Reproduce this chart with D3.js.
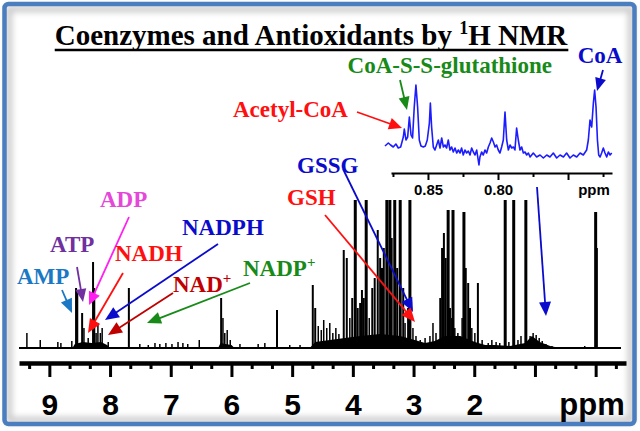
<!DOCTYPE html>
<html><head><meta charset="utf-8">
<script src="https://cdn.jsdelivr.net/npm/d3@7"></script>
<style>html,body{margin:0;padding:0;background:#fff;} svg{display:block}</style>
</head><body>
<svg id="chart" width="640" height="431"></svg>
<script>
// ---------- DATA ----------
const mainTickLabels = ["9","8","7","6","5","4","3","2"];
const mainMajorTicks = [9,8,7,6,5,4,3,2,1,0];
const mainMinorTicks = [9.333,8.667,8.333,7.667,7.333,6.667,6.333,5.667,5.333,4.667,4.333,3.667,3.333,2.667,2.333,1.667,1.333,0.667,0.333,-0.333];
const peakPpm = [9.37,9.15,8.86,8.81,8.63,8.56,8.54,8.46,8.43,8.36,8.28,8.26,8.23,8.20,8.16,8.13,8.03,
  7.69,7.51,7.37,7.26,7.18,7.08,6.98,6.88,6.80,6.72,6.53,
  6.17,6.14,6.11,6.07,6.02,5.86,5.56,5.45,5.25,5.04,4.87,
  4.66,4.62,4.57,4.52,4.48,4.43,4.38,4.33,4.28,4.23,
  4.15,4.10,4.05,4.01,3.96,3.92,3.88,3.85,3.82,3.78,
  3.73,3.68,3.64,3.59,3.55,3.52,3.49,3.44,3.39,3.36,
  3.31,3.27,3.22,3.17,3.14,3.09,3.06,3.01,2.96,2.89,
  2.81,2.73,2.68,2.63,2.56,2.53,2.50,2.47,2.43,2.40,
  2.37,2.35,2.32,2.27,2.20,2.17,2.14,2.10,2.07,2.04,
  1.99,1.94,1.87,1.77,1.71,1.64,1.58,1.49,1.43,1.35,
  1.28,1.23,1.15,1.08,1.03,0.98,0.93,0.88,0.82,0.72,
  0.18,0.00,-0.02];
const peakHeight = [15,8,6,5,7,60,55,35,20,10,86,60,15,25,15,20,6,
  60,4,3,5,4,5,4,6,5,4,8,
  50,30,15,18,8,4,4,5,38,3,3,
  63,40,22,18,28,20,25,15,20,14,
  98,90,30,50,148,40,45,58,50,148,
  30,60,70,118,90,80,100,148,148,110,
  148,80,148,60,25,40,148,20,12,8,
  10,12,25,15,50,100,115,90,138,40,
  30,138,20,15,30,136,80,65,40,20,
  15,65,8,5,8,6,5,148,6,148,
  8,12,148,12,15,13,10,7,4,2,
  2,136,100];
const humpPpm = [8.62,8.58,8.45,8.30,8.15,8.05,8.00, 6.22,6.18,6.10,6.00,5.95,
  4.71,4.62,4.38,4.13,3.88,3.55,3.22,2.98,2.81,2.65,2.48,2.23,1.99,1.82,1.66,1.41,1.16,1.05,0.92,0.75,0.59];
const humpHeight = [0,4,6,5,6,3,0, 0,5,4,3,0,
  0,6,8,10,12,14,12,8,5,7,12,12,6,3,3,2,5,12,6,2,0];
const insetPpm = [0.8807,0.8783,0.8767,0.8748,0.8729,0.8712,0.8695,0.8676,0.8669,0.8657,0.8645,0.8633,0.8621,0.8610,0.8598,0.8586,0.8574,0.8562,0.8550,0.8533,
  0.8519,0.8505,0.8490,0.8483,0.8474,0.8462,0.8450,0.8438,0.8426,0.8414,0.8402,0.8390,0.8379,0.8367,0.8355,0.8343,0.8331,0.8319,0.8307,0.8295,
  0.8283,0.8271,0.8260,0.8248,0.8236,0.8224,0.8212,0.8200,0.8188,0.8176,0.8164,0.8152,0.8136,0.8129,0.8117,0.8105,0.8093,0.8081,0.8069,0.8057,
  0.8045,0.8033,0.8021,0.8010,0.7998,0.7986,0.7974,0.7962,0.7950,0.7938,0.7926,0.7914,0.7902,0.7890,0.7879,0.7867,0.7855,0.7843,0.7831,0.7819,
  0.7807,0.7795,0.7783,0.7771,0.7748,0.7724,0.7700,0.7676,0.7652,0.7629,0.7605,0.7581,0.7557,0.7533,0.7510,0.7486,0.7462,0.7438,0.7414,0.7391,
  0.7367,0.7355,0.7343,0.7331,0.7319,0.7310,0.7300,0.7290,0.7281,0.7271,0.7260,0.7248,0.7236,0.7224,0.7212,0.7200,0.7188];
const insetIntensity = [14,17,15,13,16,12,13,23,31,20,23,43,25,22,53,75,53,20,14,13,
  14,20,37,57,33,13,10,15,20,12,22,13,15,12,20,10,13,8,12,7,
  10,7,12,5,10,7,9,5,12,8,5,10,-5,3,8,5,10,7,13,17,
  22,18,13,15,10,7,13,20,48,20,10,15,12,13,10,32,20,10,13,7,
  8,5,7,3,7,3,5,2,5,3,7,2,5,3,7,2,5,3,7,5,
  10,20,40,33,57,70,53,20,5,3,7,12,7,3,8,5,7];
const insetMajorTicks = [0.85,0.80,0.75];
const insetTickLabels = ["0.85","0.80"];
const insetMinorTicks = [0.875,0.825,0.775,0.725];
const titleParts = ["Coenzymes and Antioxidants by ","1","H NMR"];
const compoundNames = ["AMP","ATP","ADP","NADH","NADPH","NAD","NADP","GSSG","GSH","Acetyl-CoA","CoA-S-S-glutathione","CoA"];

// ---------- LAYOUT / STYLE ----------
const W = 640, H = 431;
const svg = d3.select("#chart");
const defs = svg.append("defs");
defs.append("filter").attr("id","soft").attr("x","-5%").attr("y","-5%").attr("width","110%").attr("height","110%")
  .append("feGaussianBlur").attr("stdDeviation",3);
defs.append("clipPath").attr("id","specClip").append("rect")
  .attr("x",0).attr("y",199).attr("width",W).attr("height",160);

svg.append("rect").attr("width",W).attr("height",H).attr("fill","#fff");
// frame with inner shadow
svg.append("rect").attr("x",9).attr("y",9).attr("width",622).attr("height",411)
  .attr("fill","none").attr("stroke","#c8c8c8").attr("stroke-width",6).attr("filter","url(#soft)");
svg.append("rect").attr("x",4.5).attr("y",4).attr("width",630).attr("height",420).attr("rx",4)
  .attr("fill","none").attr("stroke","#4a7ebf").attr("stroke-width",4.5);

const serif = "'Liberation Serif','Times New Roman',serif";
const sans = "'Liberation Sans',Arial,sans-serif";

// ---------- MAIN SPECTRUM ----------
const x = d3.scaleLinear().domain([9.5,-0.5]).range([19,626]);
const y = d3.scaleLinear().domain([0,148]).range([348,200]);

const spec = svg.append("g").attr("clip-path","url(#specClip)");
spec.append("line").attr("x1",19).attr("x2",621).attr("y1",y(0)).attr("y2",y(0))
  .attr("stroke","#000").attr("stroke-width",2);
const humpData = humpPpm.map((p,i)=>({p, h:humpHeight[i]}));
// split hump into segments at zero crossings for separate areas
let segs = [], cur = [];
humpData.forEach(d=>{ cur.push(d); if(d.h===0 && cur.length>1){ segs.push(cur); cur=[]; } else if(d.h===0){ cur=[d]; } });
const area = d3.area().x(d=>x(d.p)).y0(y(0)).y1(d=>y(d.h));
segs.forEach(s=> spec.append("path").attr("d",area(s)).attr("fill","#000"));
const peaks = peakPpm.map((p,i)=>({p, h:peakHeight[i]}));
spec.selectAll("line.pk").data(peaks).join("line").attr("class","pk")
  .attr("x1",d=>x(d.p)).attr("x2",d=>x(d.p))
  .attr("y1",y(0)).attr("y2",d=>y(d.h))
  .attr("stroke","#000")
  .attr("stroke-width",d=> d.h>=130 ? 3 : (d.h>30 ? 2 : 1.5));

// main axis
const axisG = svg.append("g").attr("transform","translate(0,363)");
axisG.call(d3.axisBottom(x).tickValues(mainMajorTicks).tickSize(14).tickSizeOuter(0)
  .tickFormat(d=> mainTickLabels.includes(String(d)) ? String(d) : ""));
axisG.select(".domain").attr("stroke","#000").attr("stroke-width",4.5);
axisG.selectAll(".tick line").attr("stroke","#000").attr("stroke-width",3);
axisG.selectAll(".tick text").attr("fill","#000").attr("font-family",sans).attr("font-weight","bold")
  .attr("font-size",30).attr("y",52).attr("dy",0);
const minorG = svg.append("g").attr("transform","translate(0,363)");
minorG.call(d3.axisBottom(x).tickValues(mainMinorTicks).tickSize(6).tickSizeOuter(0).tickFormat(""));
minorG.select(".domain").remove();
minorG.selectAll(".tick line").attr("stroke","#000").attr("stroke-width",3);
svg.append("text").attr("x",592).attr("y",415).attr("text-anchor","middle")
  .attr("font-family",sans).attr("font-weight","bold").attr("font-size",31).text("ppm");

// ---------- INSET ----------
const xi = d3.scaleLinear().domain([0.8764,0.7186]).range([391,612]);
const yi = d3.scaleLinear().domain([0,75]).range([160,85]);
svg.append("path").datum(insetPpm.map((p,i)=>({p, v:insetIntensity[i]})))
  .attr("d", d3.line().x(d=>xi(d.p)).y(d=>yi(d.v)))
  .attr("fill","none").attr("stroke","#1c1cff").attr("stroke-width",1.6).attr("stroke-linejoin","round");
const iax = svg.append("g").attr("transform","translate(0,173)");
iax.call(d3.axisBottom(xi).tickValues(insetMajorTicks).tickSize(7).tickSizeOuter(0)
  .tickFormat(d=> { const s=d3.format(".2f")(d); return insetTickLabels.includes(s)? s : ""; }));
iax.select(".domain").attr("stroke","#000").attr("stroke-width",2);
iax.selectAll(".tick line").attr("stroke","#000").attr("stroke-width",2);
iax.selectAll(".tick text").attr("fill","#000").attr("font-family",sans).attr("font-weight","bold")
  .attr("font-size",15).attr("y",22).attr("dy",0);
const iminor = svg.append("g").attr("transform","translate(0,173)");
iminor.call(d3.axisBottom(xi).tickValues(insetMinorTicks).tickSize(4).tickSizeOuter(0).tickFormat(""));
iminor.select(".domain").remove();
iminor.selectAll(".tick line").attr("stroke","#000").attr("stroke-width",2);
svg.append("text").attr("x",594).attr("y",195).attr("text-anchor","middle")
  .attr("font-family",sans).attr("font-weight","bold").attr("font-size",15).text("ppm");

// ---------- TITLE ----------
const title = svg.append("text").attr("x",311).attr("y",45).attr("text-anchor","middle")
  .attr("font-family",serif).attr("font-weight","bold").attr("font-size",29).attr("fill","#000");
title.append("tspan").text(titleParts[0]);
title.append("tspan").attr("font-size",18).attr("dy",-11).text(titleParts[1]);
title.append("tspan").attr("dy",11).text(titleParts[2]);
const tb = title.node().getBBox();
svg.append("line").attr("x1",tb.x).attr("x2",tb.x+tb.width).attr("y1",50).attr("y2",50)
  .attr("stroke","#000").attr("stroke-width",2.5);

// ---------- ANNOTATIONS ----------
function label(name, sup, xp, yp, color, anchor){
  const t = svg.append("text").attr("x",xp).attr("y",yp).attr("text-anchor",anchor||"start")
    .attr("font-family",serif).attr("font-weight","bold").attr("font-size",23).attr("fill",color);
  t.append("tspan").text(name);
  if(sup){ t.append("tspan").attr("font-size",15).attr("dy",-9).text(sup); }
}
function arrow(x1,y1,x2,y2,color,hl,hw,sw){
  hl = hl||13; hw = hw||11;
  const dx=x2-x1, dy=y2-y1, L=Math.hypot(dx,dy), ux=dx/L, uy=dy/L;
  const bx=x2-ux*hl, by=y2-uy*hl;
  svg.append("line").attr("x1",x1).attr("y1",y1).attr("x2",bx+ux*1).attr("y2",by+uy*1)
    .attr("stroke",color).attr("stroke-width",sw||1.8);
  svg.append("path").attr("d",`M${x2},${y2}L${bx-uy*hw/2},${by+ux*hw/2}L${bx+uy*hw/2},${by-ux*hw/2}Z`)
    .attr("fill",color);
}
const cAMP="#1b78c4", cATP="#7030a0", cADP="#e548d8", cADParrow="#ff1ff0", cRed="#ff1010",
      cBlue="#0b0bcc", cDarkRed="#c00000", cGreen="#188a18";

label(compoundNames[0], null, 17, 284, cAMP);
arrow(62,290,72,313,cAMP,14,12);
label(compoundNames[1], null, 50, 252, cATP);
arrow(77,267,83,302,cATP,13,11);
label(compoundNames[2], null, 100, 207, cADP);
arrow(129,217,89,305,cADParrow,13,12);
label(compoundNames[3], null, 115, 261, cRed);
arrow(123,273,88,333,cRed,14,12);
label(compoundNames[4], null, 182, 235, cBlue);
arrow(218,244,105,320,cBlue,14,12);
label(compoundNames[5], "+", 173, 292, cDarkRed);
arrow(173,293,108,335,cDarkRed,14,12);
label(compoundNames[6], "+", 243, 276, cGreen);
arrow(250,283,147,323,cGreen,14,12);
label(compoundNames[7], null, 297, 173, cBlue);
arrow(343,169,413,312,cBlue,14,12);
label(compoundNames[8], null, 287, 205, cRed);
arrow(325,215,415,322,cRed,14,12);
arrow(537,187,546,316,cBlue,14,12);
label(compoundNames[9], null, 233, 117, cRed);
arrow(357,112,402,128,cRed,13,12);
label(compoundNames[10], null, 552, 73, cGreen, "end");
arrow(400,80,407,110,cGreen,13,11);
label(compoundNames[11], null, 600, 63, cBlue, "middle");
arrow(603,70,597,91,cBlue,13,11);
</script>
</body></html>
